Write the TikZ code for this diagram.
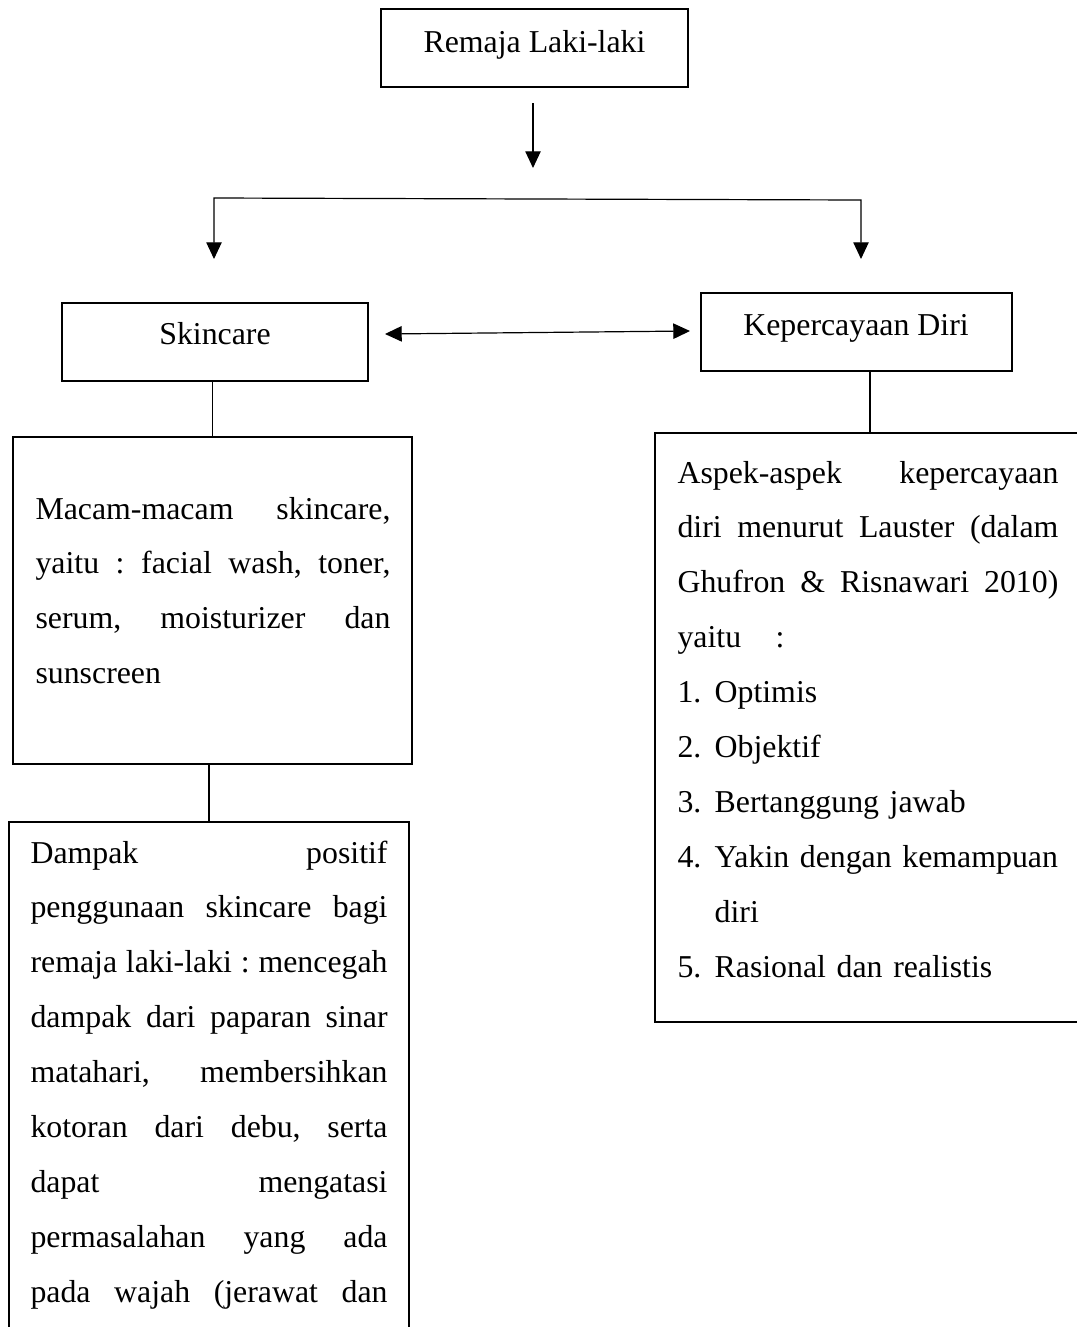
\documentclass[tikz,border=0pt]{standalone}
\usepackage{fontspec}
\setmainfont{Liberation Serif}
\usetikzlibrary{arrows.meta,calc,positioning}
\tikzset{
  box/.style={rectangle,draw,line width=0.9pt,inner sep=0pt},
  lbl/.style={font=\fontsize{12}{20.7}\selectfont,inner sep=0pt},
  para/.style={lbl,anchor=base west},
  link/.style={line width=0.45pt},
  arr/.style={link,-{Triangle[length=6.3pt,width=5.8pt]}},
  dbl/.style={link,{Triangle[length=6.3pt,width=5.8pt]}-{Triangle[length=6.3pt,width=5.8pt]}}
}
% one justified line of a box text, words split by \hfill
\newcommand{\jl}[1]{\hbox to\hsize{#1}}

\begin{document}
\begin{tikzpicture}[x=0.377pt,y=-0.377pt]
  \useasboundingbox (0,0) rectangle (1076,1327);
  % boxes
  \node[box,minimum width=115.7pt,minimum height=29.4pt] (remaja) at (534.5,48) {};
  \node[box,minimum width=115.4pt,minimum height=29.4pt] (skin) at (215,342) {};
  \node[box,minimum width=117.2pt,minimum height=29.4pt] (kep) at (856.5,332) {};
  \node[box,minimum width=150.4pt,minimum height=123.3pt] (macam) at (212.5,600.5) {};
  \node[box,minimum width=150.8pt,minimum height=217.9pt] (dampak) at (209,1111) {};
  \node[box,minimum width=162.1pt,minimum height=222.1pt] (aspek) at (870,727.5) {};
  % texts
  \node[lbl,anchor=base] (remajatxt) at (534.5,52) {Remaja Laki-laki};
  \node[lbl,anchor=base] (skintxt) at (215,344) {Skincare};
  \node[lbl,anchor=base] (keptxt) at (856,335) {Kepercayaan Diri};
  \node[para,text width=133.8pt] (macamtxt) at (35,519) {%
    \jl{Macam-macam\hfill skincare,}
    \jl{yaitu\hfill :\hfill facial\hfill wash,\hfill toner,}
    \jl{serum,\hfill moisturizer\hfill dan}
    sunscreen};
  \node[para,text width=134.6pt] (dampaktxt) at (30,863) {%
    \jl{Dampak\hfill positif}
    \jl{penggunaan\hfill skincare\hfill bagi}
    \jl{remaja\hfill laki-laki\hfill :\hfill mencegah}
    \jl{dampak\hfill dari\hfill paparan\hfill sinar}
    \jl{matahari,\hfill membersihkan}
    \jl{kotoran\hfill dari\hfill debu,\hfill serta}
    \jl{dapat\hfill mengatasi}
    \jl{permasalahan\hfill yang\hfill ada}
    \jl{pada\hfill wajah\hfill (jerawat\hfill dan}};
  \node[para,text width=143.6pt] (aspektxt) at (677,483) {%
    \jl{Aspek-aspek\hfill kepercayaan}
    \jl{diri\hfill menurut\hfill Lauster\hfill (dalam}
    \jl{Ghufron\hfill \&\hfill Risnawari\hfill 2010)}
    yaitu\hspace{13pt}:\\
    \makebox[14pt][l]{1.}Optimis\\
    \makebox[14pt][l]{2.}Objektif\\
    \makebox[14pt][l]{3.}Bertanggung jawab\\
    \makebox[14pt][l]{4.}Yakin dengan kemampuan\\
    \hspace*{14pt}diri\\
    \makebox[14pt][l]{5.}Rasional dan realistis};
  % arrows
  \coordinate (top) at (533,103);
  \coordinate (split) at (533,168);
  \coordinate (bl) at (214,198);
  \coordinate (br) at (861,200);
  \coordinate (tl) at (214,259);
  \coordinate (tr) at (861,259);
  \coordinate (dl) at (385,334);
  \coordinate (dr) at (690,331);
  \draw[arr] (top) -- (split);
  \draw[dbl] (tl) -- (bl) -- (br) -- (tr);
  \draw[dbl] (dl) -- (dr);
  % plain links
  \draw[link] (macam.north) -- (macam.north |- skin.south);
  \draw[link] (dampak.north) -- (dampak.north |- macam.south);
  \draw[link] (aspek.north) -- (aspek.north |- kep.south);
\end{tikzpicture}
\end{document}
